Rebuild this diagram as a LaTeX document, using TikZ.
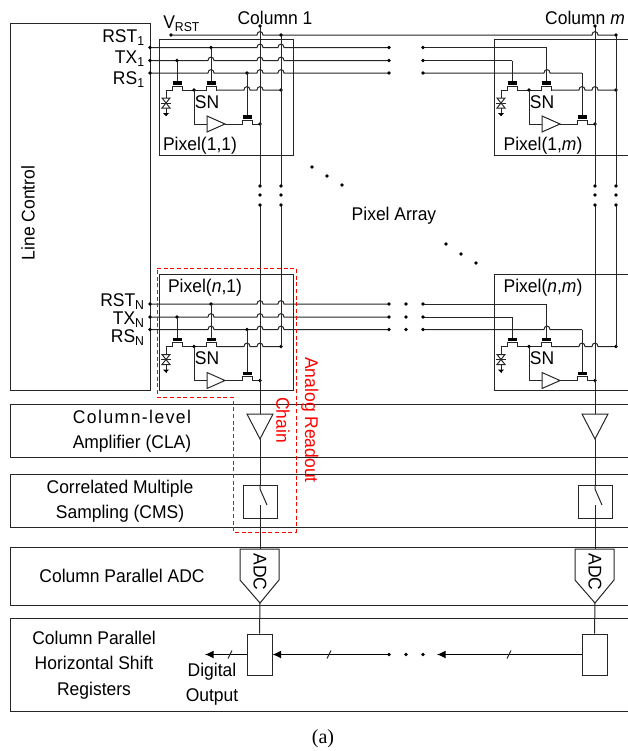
\documentclass[tikz,border=0pt]{standalone}
\usepackage{fontspec}
\setmainfont[FakeStretch=0.95]{Liberation Sans}
\newfontfamily\capfont{Liberation Serif}
\usetikzlibrary{arrows.meta,calc}
\tikzset{
  wire/.style   ={line width=0.75pt,black!85},
  lbl/.style    ={font=\fontsize{13.8}{19}\selectfont,inner sep=0pt,align=center},
  pixbox/.style ={draw,line width=0.75pt,black!85,inner sep=0pt,minimum width=100.5pt,minimum height=87pt},
  regbox/.style ={draw,line width=0.75pt,black!85,inner sep=0pt,minimum width=18.75pt,minimum height=30.75pt},
  cmsbox/.style ={draw,line width=0.75pt,black!85,inner sep=0pt,minimum width=25.5pt,minimum height=24.75pt},
  flow/.style   ={-{Latex[length=6.5pt,width=6pt]},line width=0.8pt},
  redlbl/.style ={lbl,text=red,rotate=-90},
}
% one hop per crossing: y, start x, end x, crossings
\newcommand{\rowwire}[4]{%
  \draw[wire] (#2,#1) \foreach \hx in {#4}{ -- (\hx-3,#1) .. controls (\hx-3,#1-4.5) and (\hx+3,#1-4.5) .. (\hx+3,#1)} -- (#3,#1);}
\newcommand{\jdot}[2]{\fill (#1,#2) circle[radius=1.9];}
\newcommand{\fet}[2]{%
  \draw[line width=2.4pt] (#1-4.5,#2) -- (#1+4.5,#2);
  \draw[wire] (#1-6,#2+7) -- (#1-5,#2+7) -- (#1-5,#2+3) -- (#1+5,#2+3) -- (#1+5,#2+7) -- (#1+6,#2+7);}
% the circuit of a pixel, in the coordinates of Pixel(1,1)
\newcommand{\pixelcirc}[3]{%
  \begin{scope}[shift={(#2,#3)}]
    \draw[wire] (177,60.5) -- (177,83);
    \draw[wire] (211,47.5) -- (211,83);
    \draw[wire] (247,73) -- (247,116);
    \fet{177}{83}
    \fet{211}{83}
    \fet{247}{117}
    \draw[wire] (171,90) -- (166,90) -- (166,98);
    \draw[wire] (162,98) -- (170,98) -- (162,108) -- (170,108) -- cycle;
    \draw[wire] (161,103) -- (171,103);
    \draw[wire] (166,108) -- (166,116);
    \fill (163,113) -- (169,113) -- (166,116) -- cycle;
    \draw[wire] (183,90) -- (205,90);
    \rowwire{90}{217}{281}{247,260}
    \jdot{194}{90}
    \jdot{281}{90}
    \draw[wire] (194,90) |- (207,124);
    \draw[wire] (207,116) -- (207,132) -- (225,124) -- cycle;
    \draw[wire] (225,124) -- (241,124);
    \draw[wire] (253,124) -- (260,124);
    \jdot{260}{124}
    \node[lbl] (#1sn) at (207,102) {SN};
  \end{scope}}
% one column below the array
\newcommand{\colchain}[2]{%
  \begin{scope}[xshift=#2*0.75pt]
    \draw[wire] (247,414) -- (273,414) -- (260,439) -- cycle;
    \node[cmsbox] (cms#1) at (260,501.5) {};
    \draw[wire] (260,439) -- (cms#1.north);
    \draw[wire] (cms#1.north) -- (260,489) -- (267,505);
    \draw[wire] (260,505) -- (cms#1.south);
    \draw[wire] (240,549) -- (279,549) -- (279,580) -- (260,603) -- (240,580) -- cycle;
    \node[lbl,rotate=-90] (adc#1) at (260,572) {ADC};
    \draw[wire] (cms#1.south) -- (260,549);
    \node[regbox] (reg#1) at (259.5,654.5) {};
    \draw[wire] (260,603) -- (reg#1.north);
  \end{scope}}
\begin{document}
\begin{tikzpicture}[x=0.75pt,y=-0.75pt]
  \useasboundingbox (0,0) rectangle (628,751);

  \node[draw,line width=0.75pt,black!85,inner sep=0pt,minimum width=105pt,minimum height=275.25pt] (linectrl) at (80,206.5) {};
  \node[lbl,rotate=90] (linelbl) at (28,213) {Line Control};

  % bands
  \foreach \ya/\yb in {404/457,474/527,547/605,618/711}
    \draw[wire] (632,\ya) -- (10,\ya) -- (10,\yb) -- (632,\yb);

  \node[pixbox] (pix11) at (226,97) {};
  \node[pixbox] (pix1m) at (561,97) {};
  \node[pixbox] (pixn1) at (226,332) {};
  \node[pixbox] (pixnm) at (561,332) {};

  \node[lbl] (col1) at (275,18) {Column 1};
  \node[lbl] (colm) at (585,18) {Column \textit{m}};
  \node[lbl,anchor=west] (vrst) at (163,24) {V\textsubscript{RST}};

  % reset supply
  \jdot{171}{35}
  \rowwire{35}{171}{616}{260,595}

  % rows
  \foreach \dy in {0,256.5}{
    \begin{scope}[yshift=-\dy*0.75pt]
      \rowwire{47.5}{150}{389}{260,281}
      \rowwire{60.5}{150}{389}{211,260,281}
      \rowwire{73}{150}{389}{211,260,281}
      \draw[wire] (423,47.5) -- (547,47.5);
      \draw[wire] (423,60.5) -- (512,60.5);
      \rowwire{73}{423}{582}{547}
      \foreach \yy/\xa/\xb in {47.5/211/547,60.5/177/512,73/247/582}{
        \jdot{150}{\yy}
        \jdot{\xa}{\yy}
        \jdot{389}{\yy}
        \jdot{423}{\yy}
      }
    \end{scope}
  }
  \foreach \yy in {304,317,329.5}{
    \jdot{406}{\yy}
  }

  \pixelcirc{a}{0}{0}
  \pixelcirc{b}{335}{0}
  \pixelcirc{c}{0}{256.5}
  \pixelcirc{d}{335}{256.5}

  % columns
  \foreach \dx in {0,335}{
    \begin{scope}[xshift=\dx*0.75pt]
      \draw[wire] (260,26) -- (260,186);
      \draw[wire] (260,205) -- (260,414);
      \draw[wire] (281,35) -- (281,186);
      \draw[wire] (281,205) -- (281,346.5);
      \jdot{260}{26}
      \jdot{281}{35}
      \foreach \yy in {186,195,205}{
        \jdot{260}{\yy}
        \jdot{281}{\yy}
      }
    \end{scope}
  }

  \node[lbl,anchor=east] (rst1) at (145,38) {RST\textsubscript{1}};
  \node[lbl,anchor=east] (tx1) at (145,59) {TX\textsubscript{1}};
  \node[lbl,anchor=east] (rs1) at (145,80) {RS\textsubscript{1}};
  \node[lbl,anchor=east] (rstn) at (145,302) {RST\textsubscript{N}};
  \node[lbl,anchor=east] (txn) at (145,320) {TX\textsubscript{N}};
  \node[lbl,anchor=east] (rsn) at (145,338) {RS\textsubscript{N}};

  \node[lbl] (name11) at (200,146) {Pixel(1,1)};
  \node[lbl] (name1m) at (543,146) {Pixel(1,\textit{m})};
  \node[lbl] (namen1) at (205,288) {Pixel(\textit{n},1)};
  \node[lbl] (namenm) at (543,288) {Pixel(\textit{n},\textit{m})};
  \node[lbl] (array) at (394,216) {Pixel Array};

  \foreach \px/\py in {312/167,327/176,342/185,446/244,461/254,476/263}{
    \jdot{\px}{\py}
  }

  \colchain{1}{0}
  \colchain{m}{335}

  % readout path
  \coordinate (outend) at (205,654.5);
  \coordinate (busa) at (389,654.5);
  \coordinate (busb) at (437,654.5);
  \draw[flow] (reg1.west) -- (outend);
  \draw[flow] (busa) -- (reg1.east);
  \draw[flow] (regm.west) -- (busb);
  \foreach \sx in {230,329,509}
    \draw[wire] (\sx-2,658.5) -- (\sx+2,650.5);
  \foreach \px in {389,406,423}{
    \jdot{\px}{654.5}
  }

  \draw[red,line width=0.75pt,dash pattern=on 3pt off 2pt]
    (157,268) -- (296,268) -- (296,532) -- (233,532) -- (233,397) -- (157,397) -- cycle;
  \node[redlbl] (chain1) at (310,420) {Analog Readout};
  \node[redlbl] (chain2) at (283,420) {Chain};

  \node[lbl] (clalbl) at (132,431) {{\addfontfeature{LetterSpace=8}Column-level}\\Amplifier (CLA)};
  \node[lbl] (cmslbl) at (120,501) {Correlated Multiple\\Sampling (CMS)};
  \node[lbl] (adclbl) at (122,576) {Column Parallel ADC};
  \node[lbl] (hsrlbl) at (94,665) {Column Parallel\\Horizontal Shift\\Registers};
  \node[lbl] (outlbl) at (212,684) {Digital\\Output};
  \node[font=\capfont\fontsize{15}{18}\selectfont,inner sep=0pt] (figlbl) at (323,739) {(a)};
\end{tikzpicture}
\end{document}
